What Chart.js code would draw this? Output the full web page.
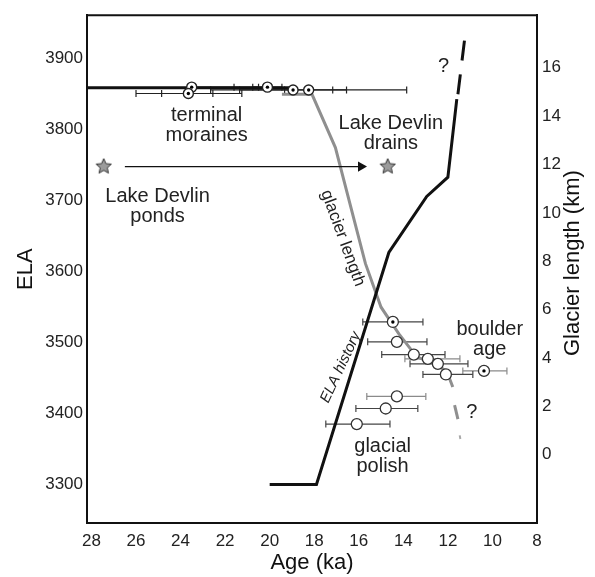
<!DOCTYPE html>
<html>
<head>
<meta charset="utf-8">
<script src="https://cdn.jsdelivr.net/npm/chart.js@4.4.1/dist/chart.umd.min.js"></script>
<style>
  html, body { margin: 0; padding: 0; background: #fff; }
  #wrap { width: 595px; height: 577px; }
</style>
</head>
<body>
<div id="wrap"><canvas id="grafica"></canvas></div>
<script>
// ─── DATOS ────────────────────────────────────────────────────────
const xTicks = [28, 26, 24, 22, 20, 18, 16, 14, 12, 10, 8]
const elaTicks = [3300, 3400, 3500, 3600, 3700, 3800, 3900]
const lenTicks = [0, 2, 4, 6, 8, 10, 12, 14, 16]

// ELA history (ka, m)
const elaAge = [20, 17.9, 14.65, 12.95, 12.0, 11.6]
const elaVal = [3300, 3300, 3627, 3706, 3733, 3843]
const elaDashAge = [11.55, 11.2]
const elaDashVal = [3850, 3940]

// glacier length (ka, km)
const lenAge = [19.45, 18.1, 17.05, 15.7, 15.0, 14.2, 13.4, 12.5, 12.05, 11.78]
const lenVal = [14.9, 14.9, 12.7, 7.9, 6.1, 5.0, 4.05, 3.72, 3.44, 2.8]
const lenDashAge = [11.7, 11.55]
const lenDashVal = [2.05, 1.47]
const lenDotAge = [11.47, 11.44]
const lenDotVal = [0.8, 0.65]

// linea superior (morrenas)
const topLineAge = [28.2, 19.0]
const topLineEla = [3859, 3859]

// morrenas terminales: edad, ELA y extremos de barras (2σ, 1σ)
const moraineAge = [23.5, 23.65, 20.1, 18.95, 18.25]
const moraineEla = [3860, 3851, 3860, 3856, 3856]
const moraineErr = [
    [23.5, 21.6, 20.5],
    [26.0, 24.85, 22.55, 21.25],
    [20.76, 19.45],
    [21.35, 16.55],
    [22.65, 19.33, 17.17, 13.85]
]

// bloques y pulido glaciar
const sampleAge = [14.47, 14.29, 13.53, 12.9, 12.45, 12.09, 10.38, 14.29, 14.79, 16.09]
const sampleEla = [3529, 3501, 3483, 3477, 3470, 3455, 3460, 3424, 3407, 3385]
const sampleLo = [15.82, 15.6, 14.97, 13.93, 13.7, 13.12, 11.33, 15.64, 16.13, 17.48]
const sampleHi = [13.12, 12.94, 12.13, 11.46, 11.1, 10.88, 9.35, 12.99, 13.35, 14.6]
const sampleDot = [true, false, false, false, false, false, true, false, false, false]

// Lake Devlin
const starAge = [27.45, 14.7]
const starEla = [3748, 3748]
const arrowAge = [26.5, 15.9]
const arrowEla = [3748, 3748]

// ─── ESTILO ───────────────────────────────────────────────────────
const FAM = "'Liberation Sans', Arial, Helvetica, sans-serif"
const claras = [3, 6, 7]   // barras en gris claro

const textos = [
    { lineas: ['terminal', 'moraines'], age: 22.83, ela: 3820 },
    { lineas: ['Lake Devlin', 'ponds'], age: 25.03, ela: 3706 },
    { lineas: ['Lake Devlin', 'drains'], age: 14.56, ela: 3809 },
    { lineas: ['boulder', 'age'], age: 10.12, ela: 3518 },
    { lineas: ['glacial', 'polish'], age: 14.93, ela: 3354 },
    { lineas: ['?'], age: 12.19, ela: 3889 },
    { lineas: ['?'], age: 10.93, ela: 3402 },
    { lineas: ['glacier length'], age: 16.72, ela: 3647, rot: 70, size: 17 },
    { lineas: ['ELA history'], age: 16.81, ela: 3465, rot: -65, size: 15, italic: true }
]

function crearEstrella() {
    const c = document.createElement('canvas')
    c.width = 18; c.height = 18
    const g = c.getContext('2d')
    g.beginPath()
    for (let i = 0; i < 10; i++) {
        const r = i % 2 === 0 ? 8 : 3.7
        const a = -Math.PI / 2 + i * Math.PI / 5
        g.lineTo(9 + r * Math.cos(a), 9 + r * Math.sin(a))
    }
    g.closePath()
    g.fillStyle = '#9b9b9b'
    g.fill()
    g.strokeStyle = '#333'
    g.lineWidth = 1
    g.stroke()
    return c
}

const pares = (xs, ys) => xs.map((x, i) => ({ x, y: ys[i] }))

// ─── DATASETS (el primero queda encima) ───────────────────────────
const datasets = []

// puntos centrales
const dotAges = moraineAge.slice(), dotElas = moraineEla.slice()
sampleAge.forEach((a, i) => { if (sampleDot[i]) { dotAges.push(a); dotElas.push(sampleEla[i]) } })
datasets.push({
    data: pares(dotAges, dotElas), yAxisID: 'y',
    pointRadius: 1.7, pointBackgroundColor: '#000', pointBorderWidth: 0
})

// circulos
datasets.push({
    data: pares(moraineAge, moraineEla), yAxisID: 'y',
    pointRadius: 5, pointBackgroundColor: '#fff', pointBorderColor: '#222', pointBorderWidth: 1.4
})
datasets.push({
    data: pares(sampleAge, sampleEla), yAxisID: 'y',
    pointRadius: 5.5, pointBackgroundColor: '#fff', pointBorderColor: '#333', pointBorderWidth: 1.3
})

// estrellas
datasets.push({
    data: pares(starAge, starEla), yAxisID: 'y',
    pointStyle: crearEstrella()
})

// flecha
datasets.push({
    data: pares(arrowAge, arrowEla), yAxisID: 'y', showLine: true,
    borderColor: '#111', borderWidth: 1.3,
    pointStyle: 'triangle', pointRotation: 90, pointRadius: [0, 6],
    pointBackgroundColor: '#111', pointBorderWidth: 0
})

// lineas principales
datasets.push({
    data: pares(topLineAge, topLineEla), yAxisID: 'y', showLine: true,
    borderColor: '#111', borderWidth: 3, pointRadius: 0
})
datasets.push({
    data: pares(elaAge, elaVal), yAxisID: 'y', showLine: true,
    borderColor: '#111', borderWidth: 3, pointRadius: 0
})
datasets.push({
    data: pares(elaDashAge, elaDashVal), yAxisID: 'y', showLine: true,
    borderColor: '#111', borderWidth: 3, borderDash: [20, 14], pointRadius: 0
})
datasets.push({
    data: pares(lenAge, lenVal), yAxisID: 'yR', showLine: true,
    borderColor: '#8f8f8f', borderWidth: 3, pointRadius: 0
})
datasets.push({
    data: pares(lenDashAge, lenDashVal), yAxisID: 'yR', showLine: true,
    borderColor: '#8f8f8f', borderWidth: 3, pointRadius: 0
})
datasets.push({
    data: pares(lenDotAge, lenDotVal), yAxisID: 'yR', showLine: true,
    borderColor: '#a8a8a8', borderWidth: 2, pointRadius: 0
})

// barras de error
const barra = (xs, y, color) => ({
    data: xs.map(x => ({ x, y })), yAxisID: 'y', showLine: true,
    borderColor: color, borderWidth: 1.2,
    pointStyle: 'line', pointRotation: 90, pointRadius: 3.5,
    pointBorderColor: color, pointBorderWidth: 1.2
})
moraineErr.forEach((xs, i) => datasets.push(barra(xs, moraineEla[i], '#222')))
sampleAge.forEach((a, i) => {
    datasets.push(barra([sampleLo[i], sampleHi[i]], sampleEla[i], claras.includes(i) ? '#8a8a8a' : '#444'))
})

// ─── PLUGIN: marco, titulo derecho y textos ──────────────────────
const marco = {
    id: 'marco',
    afterDatasetsDraw(chart) {
        const { ctx, chartArea, scales } = chart
        ctx.save()
        ctx.strokeStyle = '#111'
        ctx.lineWidth = 2
        ctx.beginPath()
        ctx.moveTo(chartArea.left - 1, chartArea.top)
        ctx.lineTo(chartArea.right + 1, chartArea.top)
        ctx.stroke()

        ctx.fillStyle = '#222'
        ctx.textAlign = 'center'
        ctx.textBaseline = 'middle'
        textos.forEach(t => {
            const px = scales.x.getPixelForValue(t.age)
            const py = scales.y.getPixelForValue(t.ela)
            ctx.save()
            ctx.translate(px, py)
            if (t.rot) ctx.rotate(t.rot * Math.PI / 180)
            ctx.font = `${t.italic ? 'italic ' : ''}${t.size || 20}px ${FAM}`
            t.lineas.forEach((l, k) => ctx.fillText(l, 0, k * 20))
            ctx.restore()
        })

        // titulo eje derecho (de abajo hacia arriba)
        ctx.save()
        ctx.translate(573, (chartArea.top + chartArea.bottom) / 2 - 6)
        ctx.rotate(-Math.PI / 2)
        ctx.font = `22px ${FAM}`
        ctx.fillStyle = '#111'
        ctx.fillText('Glacier length (km)', 0, 0)
        ctx.restore()
        ctx.restore()
    }
}

// ─── GRAFICA ──────────────────────────────────────────────────────
const tickFont = { family: FAM, size: 17 }

new Chart(document.getElementById('grafica'), {
    type: 'scatter',
    data: { datasets },
    options: {
        responsive: true,
        maintainAspectRatio: false,
        animation: false,
        layout: { padding: { top: 10, left: 0, right: 0, bottom: 0 } },
        plugins: { legend: { display: false }, tooltip: { enabled: false } },
        scales: {
            x: {
                type: 'linear', reverse: true, min: 8, max: 28.2,
                afterBuildTicks: s => { s.ticks = xTicks.map(v => ({ value: v })) },
                afterFit: s => { s.height = 54 },
                grid: { display: false, drawTicks: false },
                border: { color: '#111', width: 2 },
                ticks: { font: tickFont, color: '#222', padding: 8, maxRotation: 0, autoSkip: false, callback: v => String(v) },
                title: { display: true, text: 'Age (ka)', font: { family: FAM, size: 22 }, color: '#111', padding: { top: 0, bottom: 1 } }
            },
            y: {
                type: 'linear', position: 'left', min: 3245.6, max: 3961.4,
                afterBuildTicks: s => { s.ticks = elaTicks.map(v => ({ value: v })) },
                afterFit: s => { s.width = 87 },
                grid: { display: false, drawTicks: false },
                border: { color: '#111', width: 2 },
                ticks: { font: tickFont, color: '#222', padding: 4, autoSkip: false, callback: v => String(v) },
                title: { display: true, text: 'ELA', font: { family: FAM, size: 22 }, color: '#111', padding: { top: 13, bottom: 0 } }
            },
            yR: {
                type: 'linear', position: 'right', min: -2.82, max: 18.17,
                afterBuildTicks: s => { s.ticks = lenTicks.map(v => ({ value: v })) },
                afterFit: s => { s.width = 58 },
                grid: { display: false, drawTicks: false },
                border: { color: '#111', width: 2 },
                ticks: { font: tickFont, color: '#222', padding: 5, autoSkip: false, callback: v => String(v) }
            }
        }
    },
    plugins: [marco]
})
</script>
</body>
</html>
